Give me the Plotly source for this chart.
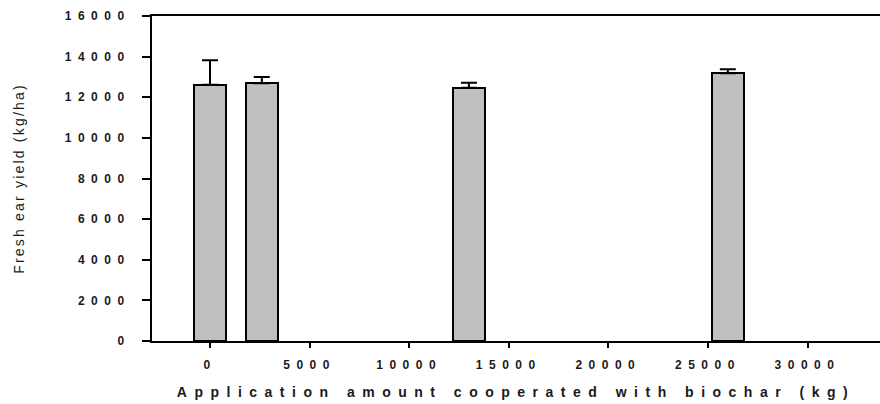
import plotly.graph_objects as go

# Data
amount = [0, 2600, 13000, 26000]            # application amount (kg)
yield_mean = [12610, 12690, 12470, 13180]   # fresh ear yield (kg/ha)
yield_err = [1215, 310, 250, 200]           # upper error bar

x_ticks = [0, 5000, 10000, 15000, 20000, 25000, 30000]
y_ticks = [0, 2000, 4000, 6000, 8000, 10000, 12000, 14000, 16000]

FONT = "Liberation Sans, Arial, sans-serif"
INK = "#1a1a1a"

fig = go.Figure(
    go.Bar(
        x=amount,
        y=yield_mean,
        width=1600,
        marker=dict(color="#c0c0c0", line=dict(color="black", width=2)),
        error_y=dict(
            type="data",
            symmetric=False,
            array=yield_err,
            arrayminus=[0] * len(yield_err),
            color="black",
            thickness=2,
            width=8,
        ),
        showlegend=False,
    )
)

fig.update_layout(
    width=880,
    height=404,
    margin=dict(l=152, r=0, t=16, b=63),
    plot_bgcolor="white",
    paper_bgcolor="white",
    font=dict(family=FONT, color=INK),
    bargap=0,
)

fig.update_xaxes(
    range=[-2912, 33640],
    tickvals=x_ticks,
    tickformat="d",
    showgrid=False,
    zeroline=False,
    showline=True,
    linecolor="black",
    linewidth=2,
    mirror=True,
    ticks="outside",
    ticklen=5,
    tickwidth=2,
    tickcolor="black",
    ticklabelstandoff=7,
    tickfont=dict(family=FONT, size=12, weight="bold", color=INK),
    title=dict(
        text="Application amount cooperated with biochar (kg)",
        font=dict(family=FONT, size=14, weight="bold", color=INK),
        standoff=16,
    ),
)

fig.update_yaxes(
    range=[0, 16000],
    tickvals=y_ticks,
    tickformat="d",
    showgrid=False,
    zeroline=False,
    showline=True,
    linecolor="black",
    linewidth=2,
    ticks="outside",
    ticklen=8,
    tickwidth=2,
    tickcolor="black",
    ticklabelstandoff=9,
    tickfont=dict(family=FONT, size=12, weight="bold", color=INK),
    title=dict(
        text="Fresh ear yield (kg/ha)",
        font=dict(family=FONT, size=14, color=INK),
        standoff=69,
    ),
)

spacing_css = (
    "var s=document.createElement('style');"
    "s.textContent='.xtick text,.ytick text{letter-spacing:6.5px}"
    " .xtitle{letter-spacing:7.5px} .ytitle{letter-spacing:2.2px}';"
    "document.head.appendChild(s);"
)

fig.write_html("out.html", config={"responsive": False, "displayModeBar": False},
               post_script=spacing_css)
